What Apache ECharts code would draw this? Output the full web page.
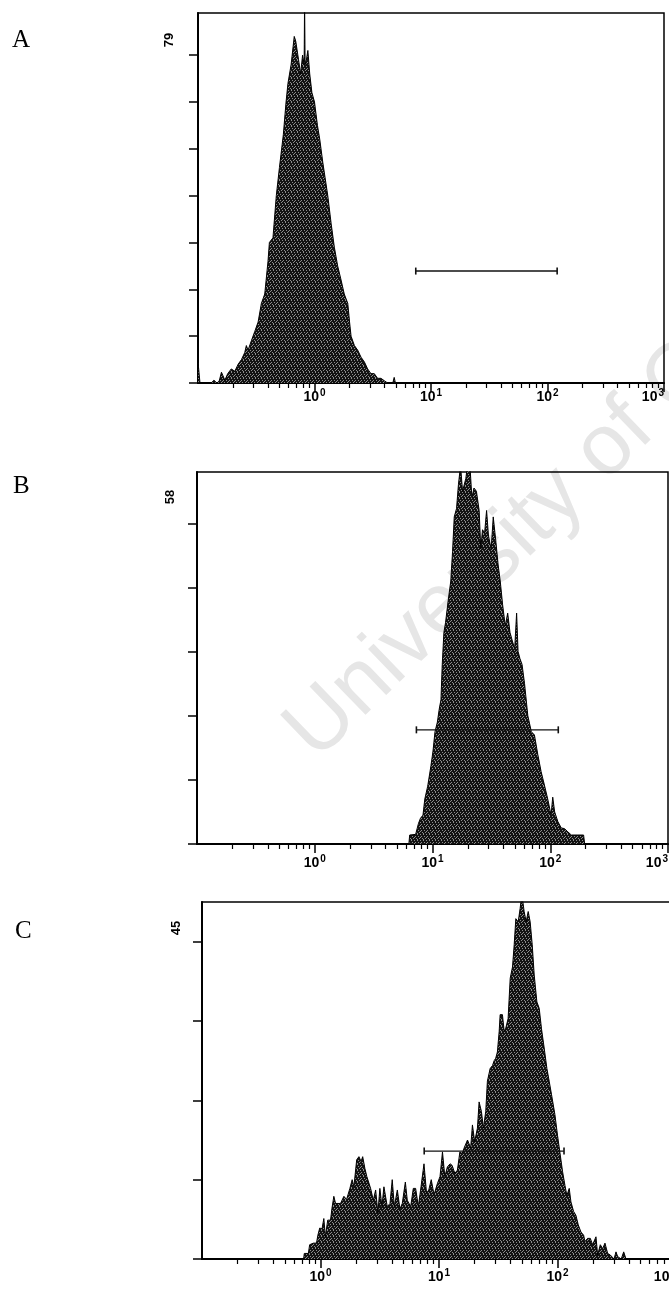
<!DOCTYPE html>
<html>
<head>
<meta charset="utf-8">
<script src="https://cdn.jsdelivr.net/npm/echarts@6/dist/echarts.min.js"></script>
<style>
html,body{margin:0;padding:0;background:#fff;overflow:hidden;}
#chart{width:669px;height:1289px;}
</style>
</head>
<body>
<div id="chart"></div>
<script>
// ---------- data ----------
const panelLetters = ['A', 'B', 'C'];
const yMaxLabels = [79, 58, 45];
const decadeTicks = [1, 10, 100, 1000];
const minorTicks = [0.2,0.3,0.4,0.5,0.6,0.7,0.8,0.9, 2,3,4,5,6,7,8,9, 20,30,40,50,60,70,80,90, 200,300,400,500,600,700,800,900];
const yTicksA = [0,10,20,30,40,50,60,70];
const yTicksB = [0,10,20,30,40,50];
const yTicksC = [0,10,20,30,40];

const histA_x = [0.1,0.104,0.13,0.137,0.145,0.152,0.159,0.17,0.18,0.193,0.207,0.221,0.236,0.252,0.26,0.269,0.287,0.307,0.328,0.35,0.374,0.399,0.41,0.44,0.47,0.5,0.54,0.57,0.592,0.63,0.67,0.69,0.73,0.76,0.79,0.815,0.822,0.83,0.84,0.877,0.91,0.95,1.0,1.06,1.11,1.18,1.23,1.3,1.39,1.48,1.58,1.69,1.8,1.93,2.0,2.06,2.2,2.35,2.51,2.68,2.86,3.05,3.26,3.48,3.72,3.97,4.24,4.7,4.83,4.95];
const histA_y = [4.5,0,0,0.6,0,0.4,2.3,0.6,2,3,2.5,4,5,6.5,8,7,9,11,13,17,19,26,30,31,40,46,53,60,64,68,74,73,69,66,70,68,82,69,68,71,66,62,60,55,52,47,44,40,34,29,25,22,19,17,13,10,8,7,5.5,4.5,3,2,2,1,1,0.5,0,0,1.2,0];

const histB_x = [6.3,6.4,7.19,7.4,7.6,7.8,7.9,8.3,8.6,9.1,9.7,10.1,10.5,11.0,11.4,11.8,12.1,12.5,12.9,13.6,14.3,14.8,15.3,16.0,16.6,17.3,18.0,18.7,19.2,19.8,20.8,21.6,22.5,23.6,24.9,25.7,26.6,27.7,28.8,29.9,31.5,32.8,34.6,36.1,37.6,39.4,41.5,43.5,45.5,47.9,49.9,51.8,53.3,55.3,57.6,60.5,64.5,69.1,73.4,78.3,83.6,89.2,95.2,101.6,105,109,116,124,132,141,151,172,192,196];
const histB_y = [0,1.4,1.5,1.5,3.2,3,4,4.5,7,9,12.2,14.5,17.5,19,21,22.5,28,33,34.5,38,41,45.6,51,52.3,56,59,55,55.2,57,59,59,54,55.5,55,52,46,49,48.5,52,48,46,51,47,43.5,41,37.3,34,36,33,31.5,30.5,36,30,28.9,28,25,20,17.5,17,14,11.3,9.2,7,4.5,7.3,5,3.5,2.5,2.4,1.9,1.4,1.4,1.4,0];

const histC_x = [0.72,0.73,0.79,0.81,0.87,0.925,0.95,0.985,1.03,1.067,
  1.10,1.15,1.215,1.25,1.296,1.34,1.383,1.476,1.575,1.66,
  1.77,1.85,1.913,2.02,2.11,2.2,2.27,2.37,2.46,2.647,
  2.79,2.92,3.05,3.17,3.3,3.43,3.66,3.86,4.03,4.2,
  4.45,4.68,4.9,5.2,5.4,5.77,6.07,6.35,6.7,7.05,
  7.47,7.85,8.2,8.6,9.08,9.69,10.2,10.7,11.2,11.77,
  12.4,12.9,13.6,14.3,15.0,15.7,16.4,17.4,18.5,19.15,
  20.0,21.1,21.8,22.8,23.7,24.8,25.6,27.0,28.3,29.2,
  30.1,31.1,32.2,32.8,34.3,35.5,36.6,38.3,39.9,41.7,
  43.1,44.5,46.6,48.4,50.0,52.3,54.4,56.6,58.8,61.2,
  63.6,67.0,70.1,73.3,77.2,81.4,85.1,89.1,95.1,100,
  105.5,110.4,115.5,120,125.6,129.8,136.7,143,149.7,157.7,
  166.1,170.5,179.6,189.1,197.9,211.2,218.2,229.8,240.4,251.6,
  265,279.2,300,311.6,321.9,345,361.9,378.5];
const histC_y = [0,0.7,0.7,1.8,2,2,3,3.9,3.8,5.1,
  2.8,4.9,4.9,6.4,7.9,7,6.8,7,7.9,7.5,
  8.9,10,9.1,12.5,12.9,12.3,12.9,11.4,10.4,8.9,
  7.4,8.7,5.8,8.9,6.6,9.1,6.6,7,10,6.6,
  8.7,6.3,7,9.7,7.4,6.6,8.9,8.9,6.6,9.1,
  12,8.3,8.7,10,8.1,9.5,10.4,13.5,10.4,11.6,
  12,11.8,10.8,11.2,13.5,13.3,14.1,15,14,16.9,
  14.8,16.5,19.8,18.6,16.5,18.6,22.4,24,24.4,25,
  25.3,26.1,28.7,30.8,30.8,28.7,29.1,30.3,35.4,36.8,
  39.6,42.9,42.5,44.2,46,43.8,42.5,43.8,42.5,39.6,
  35.8,32.4,31.6,29,26.6,24,22.4,20.7,18.2,15.6,
  13.1,11,9.3,8,8.9,7.2,6,5.5,4.3,3.4,
  3,2.2,2.6,2.6,1.8,2.8,0.5,1.8,1.3,2,
  0.7,0.5,0,0.9,0.3,0,0.9,0];

const gateA_x = [7.4, 121];  const gateA_y = 23.9;
const gateB_x = [7.3, 117];  const gateB_y = 17.8;
const gateC_x = [7.5, 113.5]; const gateC_y = 13.6;

// ---------- styling / layout ----------
const grids = [
  {left: 198, top: 13, width: 466, height: 370},
  {left: 197, top: 472, width: 471, height: 372},
  {left: 202, top: 902, width: 474, height: 357}
];
const labelMargins = [5, 10, 9];
const yTicks = [yTicksA, yTicksB, yTicksC];
const hist = [[histA_x, histA_y], [histB_x, histB_y], [histC_x, histC_y]];
const gates = [[gateA_x, gateA_y], [gateB_x, gateB_y], [gateC_x, gateC_y]];
const letterPos = [[12, 40], [13, 486], [15, 931]];
const maxLabelPos = [[169, 40], [170, 497], [176, 928]];

function makePattern() {
  const c = document.createElement('canvas');
  c.width = 6; c.height = 6;
  const g = c.getContext('2d');
  g.fillStyle = '#121212';
  g.fillRect(0, 0, 6, 6);
  g.fillStyle = '#8c8c8c';
  [[0,0],[3,0],[1,2],[4,2],[2,4],[5,4],[0,3],[3,5]].forEach(p => g.fillRect(p[0], p[1], 1, 1));
  return c;
}
const pattern = {image: makePattern(), repeat: 'repeat'};

const xAxes = [], yAxes = [], series = [];
grids.forEach((gr, i) => {
  xAxes.push({
    type: 'log', logBase: 10, min: 0.1, max: 1000, gridIndex: i, position: 'bottom',
    axisLine: {show: true, lineStyle: {color: '#000', width: 2}},
    axisTick: {show: true, customValues: decadeTicks, length: 9, lineStyle: {color: '#000', width: 1.5}},
    axisLabel: {
      show: true, customValues: decadeTicks, margin: labelMargins[i], hideOverlap: false,
      alignMaxLabel: 'right',
      formatter: v => '{m|10}{s|' + Math.round(Math.log10(v)) + '}',
      rich: {
        m: {fontFamily: 'Liberation Sans', fontSize: 14, fontWeight: 'bold', color: '#000', lineHeight: 16, verticalAlign: 'bottom'},
        s: {fontFamily: 'Liberation Sans', fontSize: 10, fontWeight: 'bold', color: '#000', lineHeight: 10, verticalAlign: 'top', padding: [0, 0, 0, 1]}
      }
    },
    splitLine: {show: false}
  });
  xAxes.push({
    type: 'log', logBase: 10, min: 0.1, max: 1000, gridIndex: i, position: 'bottom', offset: 0,
    axisLine: {show: false},
    axisTick: {show: true, customValues: minorTicks, length: 5, lineStyle: {color: '#000', width: 1.2}},
    axisLabel: {show: false},
    splitLine: {show: false}
  });
  yAxes.push({
    type: 'value', min: 0, max: yMaxLabels[i], gridIndex: i,
    axisLine: {show: true, lineStyle: {color: '#000', width: 2}},
    axisTick: {show: true, customValues: yTicks[i], length: 9, lineStyle: {color: '#000', width: 1.5}},
    axisLabel: {show: false},
    splitLine: {show: false}
  });
  const hx = hist[i][0], hy = hist[i][1];
  series.push({
    type: 'line', xAxisIndex: i * 2, yAxisIndex: i,
    data: hx.map((v, k) => [v, hy[k]]),
    showSymbol: false, symbol: 'none', silent: true, clip: true,
    lineStyle: {color: '#000', width: 1},
    areaStyle: {color: pattern, opacity: 1},
    z: 2
  });
  const gx = gates[i][0], gy = gates[i][1];
  series.push({
    type: 'line', xAxisIndex: i * 2, yAxisIndex: i,
    data: gx.map(v => [v, gy]),
    symbol: 'rect', symbolSize: [1.6, 7], showSymbol: true, silent: true,
    itemStyle: {color: '#111'},
    lineStyle: {color: '#111', width: 1.4},
    z: 5
  });
});

const graphics = [];
graphics.push({
  type: 'text', x: 300, y: 745, rotation: 44 * Math.PI / 180, z: -1, silent: true,
  style: {text: 'University of Cape Town', font: '86px "Liberation Sans", Arial, sans-serif', fill: '#e6e6e6', align: 'left', verticalAlign: 'middle'}
});
panelLetters.forEach((t, i) => {
  graphics.push({
    type: 'text', x: letterPos[i][0], y: letterPos[i][1], silent: true,
    style: {text: t, font: '25px "Liberation Serif", "Times New Roman", serif', fill: '#000', align: 'left', verticalAlign: 'middle'}
  });
  graphics.push({
    type: 'text', x: maxLabelPos[i][0], y: maxLabelPos[i][1], rotation: Math.PI / 2, silent: true,
    style: {text: String(yMaxLabels[i]), font: 'bold 13px "Liberation Sans", Arial, sans-serif', fill: '#000', align: 'center', verticalAlign: 'middle'}
  });
});

const chart = echarts.init(document.getElementById('chart'), null, {renderer: 'canvas'});
chart.setOption({
  animation: false,
  backgroundColor: '#fff',
  grid: grids.map(g => Object.assign({show: true, borderColor: '#000', borderWidth: 1.5, backgroundColor: 'transparent', containLabel: false, outerBoundsMode: 'none'}, g)),
  xAxis: xAxes,
  yAxis: yAxes,
  series: series,
  graphic: graphics
});
</script>
</body>
</html>
